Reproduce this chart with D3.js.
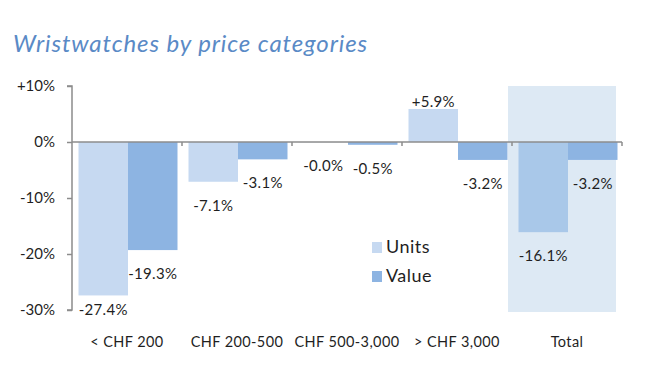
<!DOCTYPE html>
<html><head><meta charset="utf-8">
<script src="https://cdn.jsdelivr.net/npm/d3@7"></script>
<style>body{margin:0;background:#fff}svg{display:block}text{font-family:Lato,"Open Sans",sans-serif}</style>
</head><body>
<svg id="c" width="661" height="382"></svg>
<script>
const categories = ["< CHF 200", "CHF 200-500", "CHF 500-3,000", "> CHF 3,000", "Total"];
const seriesNames = ["Units", "Value"];
const units = [-27.4, -7.1, -0.04, 5.9, -16.1];
const value = [-19.3, -3.1, -0.5, -3.2, -3.2];
const unitLabels = ["-27.4%", "-7.1%", "-0.0%", "+5.9%", "-16.1%"];
const valueLabels = ["-19.3%", "-3.1%", "-0.5%", "-3.2%", "-3.2%"];
const yTicks = [10, 0, -10, -20, -30];
const yTickLabels = ["+10%", "0%", "-10%", "-20%", "-30%"];
const highlighted = "Total";

const svg = d3.select("#c");
const colors = {Units: "#c6d9f1", Value: "#8db4e2"};
const axisColor = "#8c8c8c";

const x = d3.scaleBand().domain(categories).range([72, 622]).padding(0);
const x1 = d3.scaleBand().domain(seriesNames).range([6.5, 105.5]).padding(0);
const y = d3.scaleLinear().domain([-30, 10]).range([310, 86]);

// title
svg.append("text").attr("x", 13).attr("y", 52)
  .attr("font-size", 24).attr("font-style", "italic").attr("fill", "#5a8ac6")
  .attr("letter-spacing", 0.9)
  .text("Wristwatches by price categories");

// highlight background
svg.append("rect")
  .attr("x", x(highlighted) - 4).attr("width", x.bandwidth() - 2)
  .attr("y", y(10)).attr("height", y(-30) - y(10) + 2)
  .attr("fill", "#dde9f4");

const data = [];
categories.forEach((c, i) => {
  data.push({c, s: "Units", v: units[i], l: unitLabels[i]});
  data.push({c, s: "Value", v: value[i], l: valueLabels[i]});
});

svg.append("g").selectAll("rect").data(data).join("rect")
  .attr("x", d => x(d.c) + x1(d.s))
  .attr("width", x1.bandwidth())
  .attr("y", d => y(Math.max(0, d.v)))
  .attr("height", d => Math.abs(y(d.v) - y(0)))
  .attr("fill", d => (d.c === highlighted && d.s === "Units") ? "#a9c8e9" : colors[d.s]);

// y axis
const yAxis = d3.axisLeft(y).tickValues(yTicks).tickSize(5)
  .tickFormat((d, i) => yTickLabels[i]);
const gy = svg.append("g").attr("transform", "translate(72,0)").call(yAxis);
gy.select(".domain").attr("stroke", axisColor).attr("stroke-width", 1.5).attr("d", `M-5,${y(10)}H0V${y(-30)}H-5`);
gy.selectAll(".tick line").attr("stroke", axisColor).attr("stroke-width", 1.5);
gy.selectAll(".tick text").attr("font-size", 15).attr("fill", "#1f1f1f")
  .attr("font-family", "Lato, sans-serif").attr("x", -17);

// zero line with category ticks
const xAxis = d3.axisBottom(x).tickSize(0).tickFormat("");
const gx = svg.append("g").attr("transform", `translate(0,${y(0)})`).call(xAxis);
gx.select(".domain").attr("stroke", axisColor).attr("stroke-width", 1.5).attr("d", `M72,0H622`);
gx.selectAll(".tick").remove();
gx.selectAll(".sep").data(categories).join("line")
  .attr("x1", d => x(d) + x.bandwidth()).attr("x2", d => x(d) + x.bandwidth())
  .attr("y1", 0).attr("y2", 4).attr("stroke", axisColor).attr("stroke-width", 1.5);

// category labels
svg.append("g").selectAll("text").data(categories).join("text")
  .attr("x", d => x(d) + x.bandwidth() / 2).attr("y", 347)
  .attr("text-anchor", "middle").attr("font-size", 14.5).attr("fill", "#1f1f1f")
  .attr("letter-spacing", 0.4)
  .text(d => d);

// data labels
svg.append("g").selectAll("text").data(data).join("text")
  .attr("x", d => x(d.c) + x1(d.s) + x1.bandwidth() / 2)
  .attr("y", d => d.v >= 0 ? y(d.v) - 2 : Math.min(y(d.v) + 29, 315))
  .attr("text-anchor", "middle").attr("font-size", 15).attr("fill", "#1f1f1f")
  .attr("letter-spacing", 0.3)
  .text(d => d.l);

// legend
const lg = svg.append("g").attr("transform", "translate(372,242)");
seriesNames.forEach((s, i) => {
  lg.append("rect").attr("x", 0).attr("y", i * 29).attr("width", 10).attr("height", 11).attr("fill", colors[s]);
  lg.append("text").attr("x", 14).attr("y", i * 29 + 11).attr("font-size", 18).attr("fill", "#1f1f1f")
    .attr("letter-spacing", 0.5).text(s);
});
</script>
</body></html>
